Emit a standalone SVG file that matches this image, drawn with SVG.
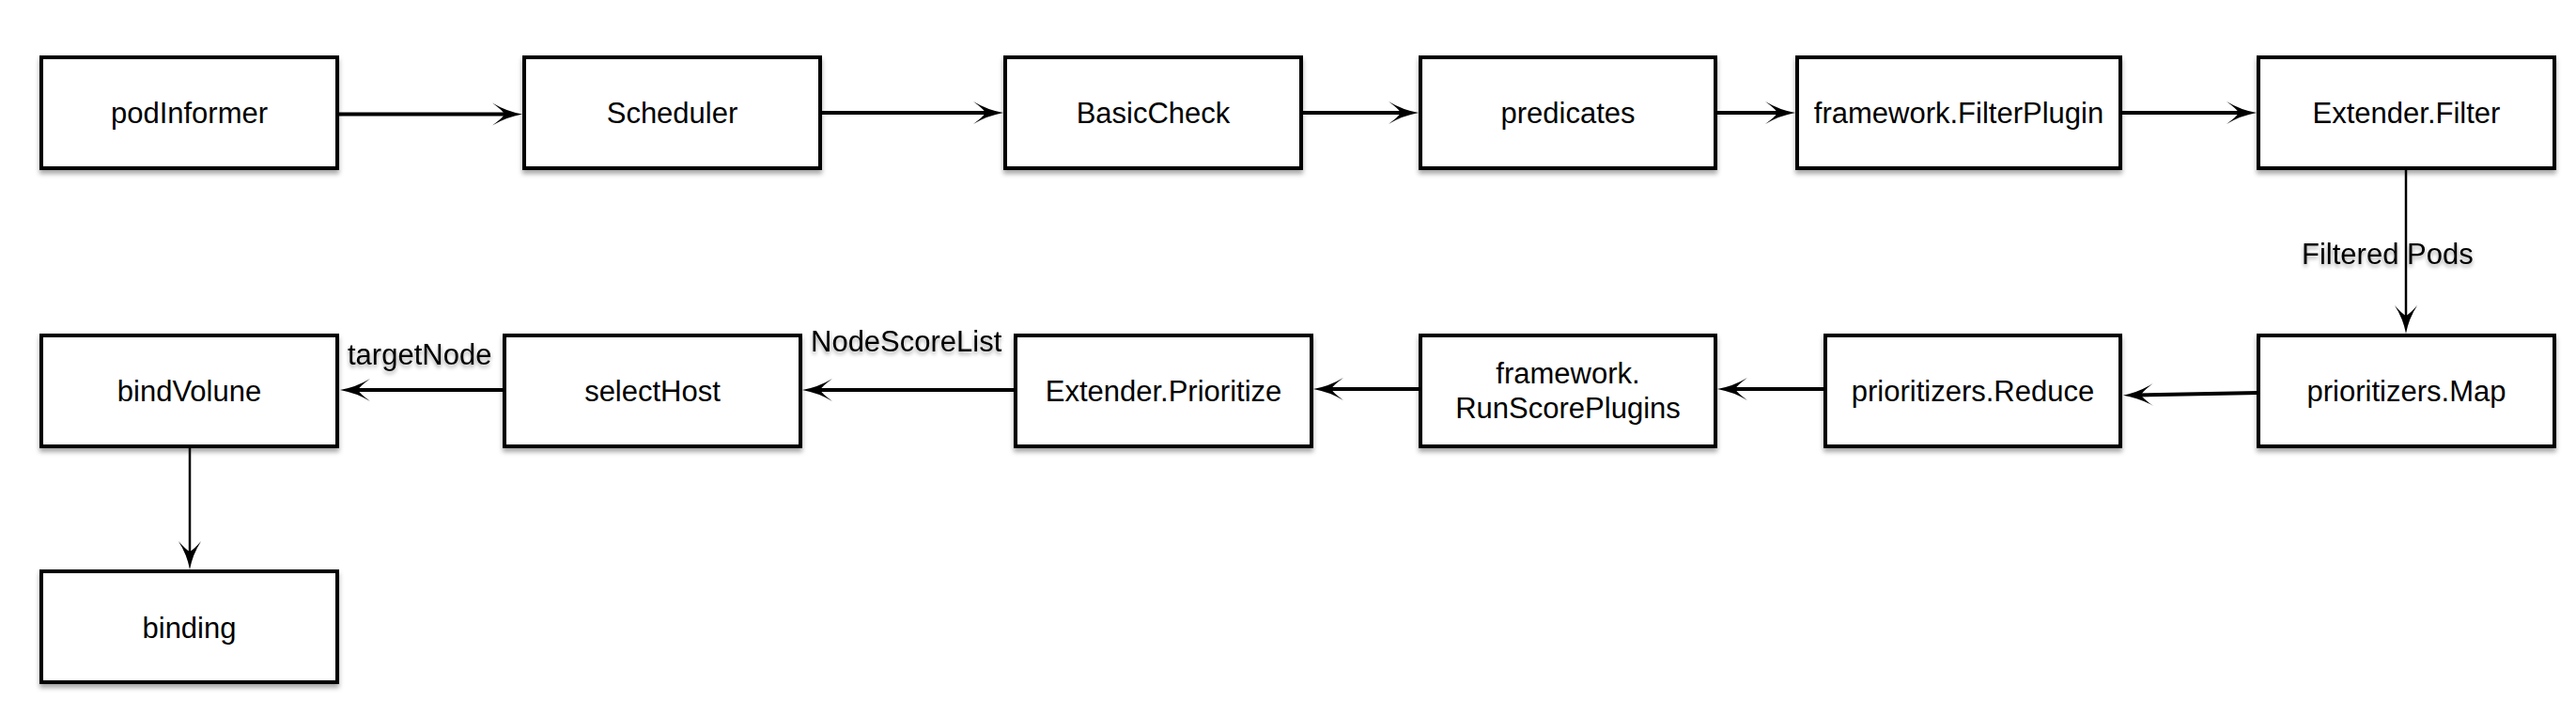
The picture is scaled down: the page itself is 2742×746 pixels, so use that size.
<svg xmlns="http://www.w3.org/2000/svg" width="2742" height="746" viewBox="0 0 2742 746">
<style>
.box{fill:#fff;stroke:#000;stroke-width:4;filter:url(#sh)}
.t{font-family:"Liberation Sans",Arial,Helvetica,sans-serif;font-size:31px;fill:#000;text-anchor:middle}
.lbl{font-family:"Liberation Sans",Arial,Helvetica,sans-serif;font-size:31px;fill:#000;filter:url(#tsh)}
.h{fill:none;stroke:#000;stroke-width:4;marker-end:url(#ah)}
.v{fill:none;stroke:#000;stroke-width:2.5;marker-end:url(#av)}
</style>
<defs>
<filter id="sh" x="-5%" y="-10%" width="110%" height="130%">
<feDropShadow dx="0" dy="4" stdDeviation="2.5" flood-color="#000" flood-opacity="0.35"/>
</filter>
<filter id="tsh" x="-5%" y="-20%" width="110%" height="160%">
<feDropShadow dx="0" dy="3" stdDeviation="2" flood-color="#000" flood-opacity="0.35"/>
</filter>
<marker id="ah" markerUnits="userSpaceOnUse" markerWidth="34" markerHeight="28" refX="20" refY="12" orient="auto" overflow="visible">
<path d="M-1,0 Q14,9 31,12 Q14,15 -1,24 Q10,16 12,12 Q10,8 -1,0 Z" fill="#000"/>
</marker>
<marker id="av" markerUnits="userSpaceOnUse" markerWidth="34" markerHeight="28" refX="20" refY="12" orient="auto" overflow="visible">
<path d="M0,0 Q14,9 30,12 Q14,15 0,24 Q9,16 11,12 Q9,8 0,0 Z" fill="#000"/>
</marker>
</defs>
<rect width="2742" height="746" fill="#fff"/>
<g id="podInformer"><rect class="box" x="44" y="61" width="315" height="118"/><text class="t" x="201.5" y="131">podInformer</text></g>
<g id="Scheduler"><rect class="box" x="558" y="61" width="315" height="118"/><text class="t" x="715.5" y="131">Scheduler</text></g>
<g id="BasicCheck"><rect class="box" x="1070" y="61" width="315" height="118"/><text class="t" x="1227.5" y="131">BasicCheck</text></g>
<g id="predicates"><rect class="box" x="1512" y="61" width="314" height="118"/><text class="t" x="1669" y="131">predicates</text></g>
<g id="FilterPlugin"><rect class="box" x="1913" y="61" width="344" height="118"/><text class="t" x="2085" y="131">framework.FilterPlugin</text></g>
<g id="ExtenderFilter"><rect class="box" x="2404" y="61" width="315" height="118"/><text class="t" x="2561.5" y="131">Extender.Filter</text></g>
<g id="bindVolune"><rect class="box" x="44" y="357" width="315" height="118"/><text class="t" x="201.5" y="427">bindVolune</text></g>
<g id="selectHost"><rect class="box" x="537" y="357" width="315" height="118"/><text class="t" x="694.5" y="427">selectHost</text></g>
<g id="ExtenderPrioritize"><rect class="box" x="1081" y="357" width="315" height="118"/><text class="t" x="1238.5" y="427">Extender.Prioritize</text></g>
<g id="RunScorePlugins"><rect class="box" x="1512" y="357" width="314" height="118"/><text class="t" x="1669" y="408">framework.</text><text class="t" x="1669" y="445">RunScorePlugins</text></g>
<g id="prioritizersReduce"><rect class="box" x="1943" y="357" width="314" height="118"/><text class="t" x="2100" y="427">prioritizers.Reduce</text></g>
<g id="prioritizersMap"><rect class="box" x="2404" y="357" width="315" height="118"/><text class="t" x="2561.5" y="427">prioritizers.Map</text></g>
<g id="binding"><rect class="box" x="44" y="608" width="315" height="118"/><text class="t" x="201.5" y="679">binding</text></g>
<g id="connectors">
<line class="h" x1="359" y1="121.5" x2="545" y2="121.5"/>
<line class="h" x1="873" y1="120" x2="1057" y2="120"/>
<line class="h" x1="1385" y1="120" x2="1499" y2="120"/>
<line class="h" x1="1826" y1="120" x2="1900" y2="120"/>
<line class="h" x1="2257" y1="120" x2="2391" y2="120"/>
<line class="v" x1="2561" y1="179" x2="2561" y2="345"/>
<line class="h" x1="2404" y1="418" x2="2271" y2="420.5"/>
<line class="h" x1="1943" y1="414" x2="1839" y2="414"/>
<line class="h" x1="1512" y1="414" x2="1409" y2="414"/>
<line class="h" x1="1081" y1="415" x2="865" y2="415"/>
<line class="h" x1="537" y1="415" x2="373" y2="415"/>
<line class="v" x1="202" y1="475" x2="202" y2="596"/>
<text class="lbl" x="2450" y="281">Filtered Pods</text>
<text class="lbl" x="370" y="388">targetNode</text>
<text class="lbl" x="863" y="374">NodeScoreList</text>
</g>
</svg>
